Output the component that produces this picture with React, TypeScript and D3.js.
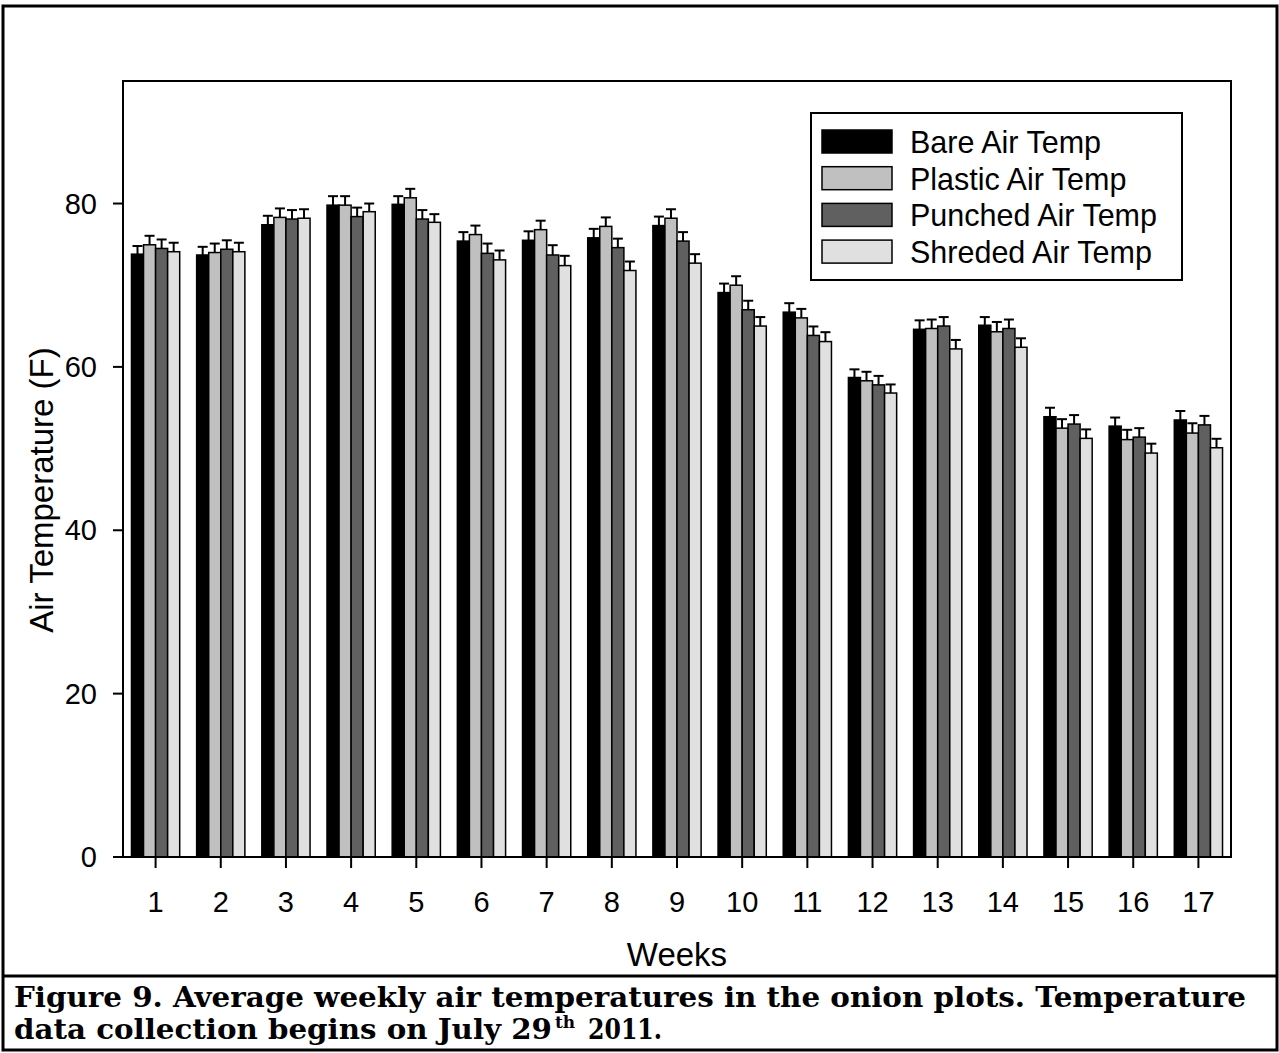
import React from "react";
import * as d3 from "d3";

const weeks = ["1","2","3","4","5","6","7","8","9","10","11","12","13","14","15","16","17"];
const seriesNames = ["Bare Air Temp","Plastic Air Temp","Punched Air Temp","Shreded Air Temp"];
const seriesColors = ["#000000","#c0c0c0","#606060","#e0e0e0"];
const bare = [73.8,73.7,77.4,79.8,79.9,75.4,75.5,75.8,77.3,69.1,66.7,58.7,64.6,65.1,53.9,52.75,53.5];
const bareErr = [1.0,1.0,1.1,1.1,1.0,1.1,1.1,1.1,1.1,1.1,1.1,1.0,1.1,1.0,1.1,1.05,1.1];
const plastic = [74.95,74.0,78.3,79.8,80.7,76.2,76.8,77.2,78.2,70.0,66.0,58.3,64.7,64.3,52.5,51.1,51.9];
const plasticErr = [1.1,1.1,1.1,1.1,1.1,1.1,1.1,1.1,1.1,1.1,1.1,1.1,1.1,1.2,1.1,1.2,1.2];
const punched = [74.5,74.4,78.1,78.4,78.1,73.9,73.7,74.6,75.4,67.0,63.85,57.8,65.0,64.7,53.0,51.4,52.9];
const punchedErr = [1.1,1.1,1.1,1.1,1.1,1.2,1.2,1.1,1.1,1.1,1.1,1.1,1.1,1.1,1.1,1.1,1.1];
const shredded = [74.1,74.1,78.2,79.0,77.7,73.1,72.4,71.8,72.7,65.0,63.1,56.8,62.2,62.4,51.25,49.45,50.1];
const shreddedErr = [1.1,1.1,1.1,1.0,1.0,1.15,1.2,1.1,1.1,1.1,1.15,1.05,1.1,1.1,1.1,1.15,1.1];
const yTicks = [0,20,40,60,80];

const seriesValues = [bare, plastic, punched, shredded];
const seriesErrors = [bareErr, plasticErr, punchedErr, shreddedErr];

const SANS = "'Liberation Sans', Arial, Helvetica, sans-serif";
const SERIF = "Georgia, 'DejaVu Serif', serif";

export default function App() {
  const W = 1279, H = 1053;
  const left = 123, right = 1231, top = 81, bottom = 857;
  const x = d3.scaleBand<string>().domain(weeks).range([left, right]).paddingInner(0.26).paddingOuter(0.13);
  const xs = d3.scaleBand<number>().domain([0,1,2,3]).range([0, x.bandwidth()]).padding(0);
  const y = d3.scaleLinear().domain([0, 95]).range([bottom, top]);
  const capW = 10;

  return (
    <svg width={W} height={H} style={{ position: "absolute", left: 0, top: 0, background: "#fff" }}>
      <rect x={0} y={0} width={W} height={H} fill="#fff" />
      {/* outer frame */}
      <rect x={3} y={6} width={1274} height={1044} fill="none" stroke="#000" strokeWidth={3} />
      <line x1={3} x2={1277} y1={976} y2={976} stroke="#000" strokeWidth={3} />

      {/* bars */}
      {weeks.map((w, i) => (
        <g key={w}>
          {seriesValues.map((vals, s) => {
            const bx = (x(w) as number) + (xs(s) as number);
            const bw = xs.bandwidth();
            const v = vals[i];
            const e = seriesErrors[s][i];
            const cx = bx + bw / 2;
            return (
              <g key={s}>
                <line x1={cx} x2={cx} y1={y(v)} y2={y(v + e)} stroke="#000" strokeWidth={2} />
                <line x1={cx - capW / 2} x2={cx + capW / 2} y1={y(v + e)} y2={y(v + e)} stroke="#000" strokeWidth={2} />
                <rect x={bx} y={y(v)} width={bw} height={bottom - y(v)} fill={seriesColors[s]} stroke="#000" strokeWidth={1.5} />
              </g>
            );
          })}
        </g>
      ))}

      {/* plot frame */}
      <rect x={left} y={top} width={right - left} height={bottom - top} fill="none" stroke="#000" strokeWidth={2} />

      {/* y axis */}
      {yTicks.map((t) => (
        <g key={t}>
          <line x1={left - 10} x2={left} y1={y(t)} y2={y(t)} stroke="#000" strokeWidth={2} />
          <text x={97} y={y(t) + 10} textAnchor="end" fontFamily={SANS} fontSize={29}>{t}</text>
        </g>
      ))}
      <text transform={`translate(53,490) rotate(-90)`} textAnchor="middle" fontFamily={SANS} fontSize={33}>Air Temperature (F)</text>

      {/* x axis */}
      {weeks.map((w) => {
        const cx = (x(w) as number) + x.bandwidth() / 2;
        return (
          <g key={w}>
            <line x1={cx} x2={cx} y1={bottom} y2={bottom + 11} stroke="#000" strokeWidth={2} />
            <text x={cx} y={912} textAnchor="middle" fontFamily={SANS} fontSize={29}>{w}</text>
          </g>
        );
      })}
      <text x={677} y={966} textAnchor="middle" fontFamily={SANS} fontSize={33}>Weeks</text>

      {/* legend */}
      <rect x={811} y={113} width={371} height={167} fill="#fff" stroke="#000" strokeWidth={2} />
      {seriesNames.map((n, s) => (
        <g key={n}>
          <rect x={822} y={130 + s * 36.7} width={70} height={23} fill={seriesColors[s]} stroke="#000" strokeWidth={1.5} />
          <text x={910} y={153 + s * 36.7} fontFamily={SANS} fontSize={30.5}>{n}</text>
        </g>
      ))}

      {/* caption */}
      <text x={14} y={1007} fontFamily={SERIF} fontWeight="bold" fontSize={28} textLength={1232} lengthAdjust="spacingAndGlyphs">
        Figure 9. Average weekly air temperatures in the onion plots. Temperature
      </text>
      <text x={14} y={1039} fontFamily={SERIF} fontWeight="bold" fontSize={28} textLength={538} lengthAdjust="spacingAndGlyphs">
        data collection begins on July 29
      </text>
      <text x={555} y={1028} fontFamily={SERIF} fontWeight="bold" fontSize={17}>th</text>
      <text x={588} y={1039} fontFamily={SERIF} fontWeight="bold" fontSize={28} textLength={74} lengthAdjust="spacingAndGlyphs">2011.</text>
    </svg>
  );
}
